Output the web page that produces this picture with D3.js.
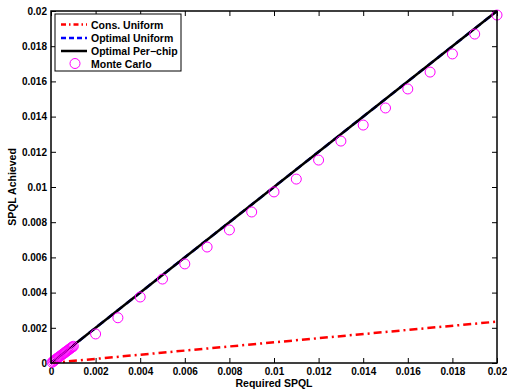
<!DOCTYPE html>
<html><head><meta charset="utf-8">
<script src="https://cdn.jsdelivr.net/npm/d3@7"></script>
<style>
body{margin:0;background:#fff;}
text{font-family:"Liberation Sans",Arial,sans-serif;font-weight:bold;}
</style></head>
<body><svg id="c" width="507" height="389"></svg>
<script>
const xTicks = [0,0.002,0.004,0.006,0.008,0.01,0.012,0.014,0.016,0.018,0.02];
const yTicks = [0,0.002,0.004,0.006,0.008,0.01,0.012,0.014,0.016,0.018,0.02];
const lineX = [0, 0.02];
const consUniform = [0, 0.00235];
const optUniform = [0, 0.02];
const optPerChip = [0, 0.02];
const mcX = [0.00005,0.0001,0.00015,0.0002,0.00025,0.0003,0.00035,0.0004,0.00045,0.0005,0.00055,0.0006,0.00065,0.0007,0.00075,0.0008,0.00085,0.0009,0.00095,0.001,
  0.002,0.003,0.004,0.005,0.006,0.007,0.008,0.009,0.01,0.011,0.012,0.013,0.014,0.015,0.016,0.017,0.018,0.019,0.02];
const mcY = [0.00004,0.00009,0.00014,0.00019,0.00024,0.00029,0.00033,0.00038,0.00043,0.00048,0.00052,0.00057,0.00062,0.00067,0.00071,0.00076,0.00081,0.00086,0.0009,0.00095,
  0.00165,0.00257,0.00375,0.00477,0.00563,0.00659,0.00756,0.00858,0.00972,0.01045,0.01153,0.01261,0.01352,0.01449,0.01557,0.01653,0.01756,0.01869,0.01977];
const legendLabels = ["Cons. Uniform","Optimal Uniform","Optimal Per\u2212chip","Monte Carlo"];

const L=51,R=497,T=11,B=363;
const svg=d3.select("#c");
const x=d3.scaleLinear().domain([0,0.02]).range([L,R]);
const y=d3.scaleLinear().domain([0,0.02]).range([B,T]);
const fmt=d=>d===0?"0":String(+d.toFixed(3));

// axes
svg.append("g").attr("transform",`translate(0,${B})`)
  .call(d3.axisBottom(x).tickValues(xTicks).tickFormat(fmt).tickSizeInner(-5).tickSizeOuter(0).tickPadding(5))
  .call(g=>{g.select(".domain").remove();g.selectAll("text").attr("font-size",10).attr("font-family","Liberation Sans, Arial").attr("font-weight","bold").attr("fill","#000");});
svg.append("g").attr("transform",`translate(0,${T})`)
  .call(d3.axisTop(x).tickValues(xTicks).tickFormat("").tickSizeInner(-5).tickSizeOuter(0))
  .call(g=>g.select(".domain").remove());
svg.append("g").attr("transform",`translate(${L},0)`)
  .call(d3.axisLeft(y).tickValues(yTicks).tickFormat(fmt).tickSizeInner(-5).tickSizeOuter(0).tickPadding(4))
  .call(g=>{g.select(".domain").remove();g.selectAll("text").attr("font-size",10).attr("font-family","Liberation Sans, Arial").attr("font-weight","bold").attr("fill","#000");});
svg.append("g").attr("transform",`translate(${R},0)`)
  .call(d3.axisRight(y).tickValues(yTicks).tickFormat("").tickSizeInner(-5).tickSizeOuter(0))
  .call(g=>g.select(".domain").remove());

const clip=svg.append("clipPath").attr("id","pc").append("rect").attr("x",L).attr("y",T-3).attr("width",R-L+3).attr("height",B-T+3);

const line=d3.line().x((d,i)=>x(lineX[i])).y(d=>y(d));
svg.append("path").attr("d",line(consUniform)).attr("fill","none").attr("stroke","#ff0000").attr("stroke-width",2.5).attr("stroke-dasharray","8,4,2,4");
svg.append("path").attr("d",line(optUniform)).attr("fill","none").attr("stroke","#0000ff").attr("stroke-width",2.5).attr("stroke-dasharray","7,5");
svg.append("path").attr("d",line(optPerChip)).attr("fill","none").attr("stroke","#000").attr("stroke-width",2.5);

svg.append("g").selectAll("circle").data(mcX).join("circle")
  .attr("cx",d=>x(d)).attr("cy",(d,i)=>y(mcY[i])).attr("r",5)
  .attr("fill","none").attr("stroke","#ff00ff").attr("stroke-width",1);

// frame
svg.append("rect").attr("x",L).attr("y",T).attr("width",R-L).attr("height",B-T).attr("fill","none").attr("stroke","#000").attr("stroke-width",1.5);

// legend
const lg=svg.append("g");
lg.append("rect").attr("x",55).attr("y",14).attr("width",126).attr("height",57).attr("fill","#fff").attr("stroke","#000").attr("stroke-width",1);
const ly=[24.5,38,51,63.5];
const styles=[{c:"#ff0000",d:"5,3,1.5,3"},{c:"#0000ff",d:"5,3"},{c:"#000",d:null}];
styles.forEach((s,i)=>{
  const p=lg.append("line").attr("x1",61).attr("x2",87).attr("y1",ly[i]).attr("y2",ly[i]).attr("stroke",s.c).attr("stroke-width",2.5);
  if(s.d)p.attr("stroke-dasharray",s.d);
});
lg.append("circle").attr("cx",75).attr("cy",ly[3]).attr("r",5).attr("fill","none").attr("stroke","#ff00ff").attr("stroke-width",1);
lg.selectAll("text").data(legendLabels).join("text").attr("x",91).attr("y",(d,i)=>ly[i]+4).attr("font-size",10.5).text(d=>d);

// axis labels
svg.append("text").attr("x",(L+R)/2).attr("y",387).attr("text-anchor","middle").attr("font-size",10.5).text("Required SPQL");
svg.append("text").attr("transform",`translate(16,${(T+B)/2}) rotate(-90)`).attr("text-anchor","middle").attr("font-size",10.5).text("SPQL Achieved");
</script></body></html>
